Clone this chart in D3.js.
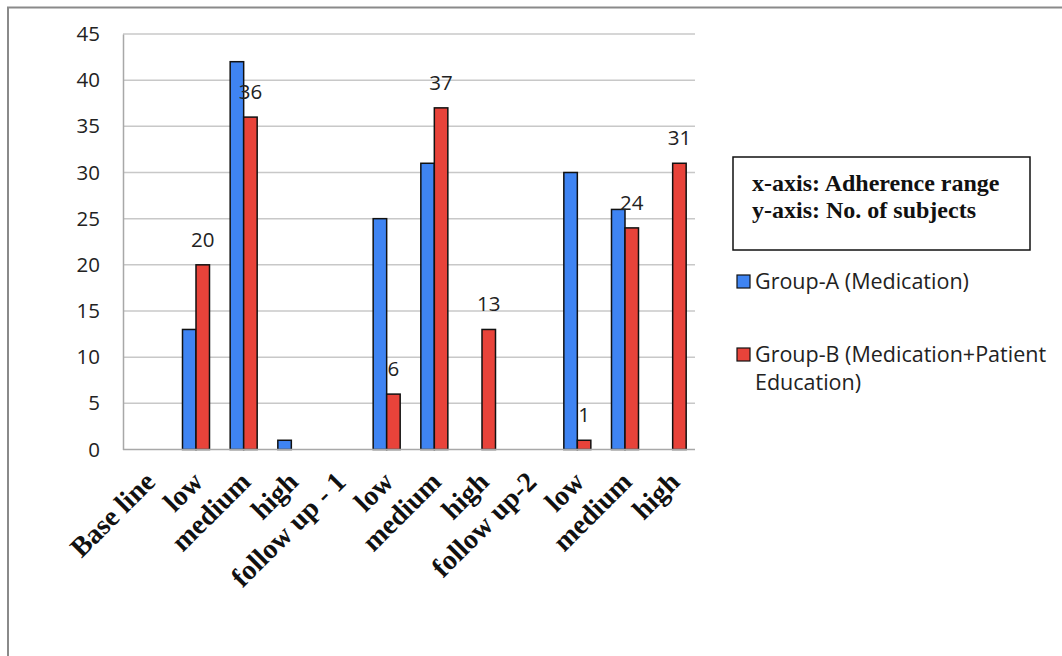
<!DOCTYPE html>
<html>
<head>
<meta charset="utf-8">
<script src="https://cdn.jsdelivr.net/npm/d3@7/dist/d3.min.js"></script>
<style>
  html, body { margin: 0; padding: 0; background: #fff; }
  svg { display: block; }
</style>
</head>
<body>
<svg id="chart" width="1062" height="656"></svg>
<script>
// Adherence categories along the x-axis
const categories = ["Base line", "low", "medium", "high", "follow up - 1", "low", "medium", "high", "follow up-2", "low", "medium", "high"];
// Number of subjects per group
const groupA = [0, 13, 42, 1, 0, 25, 31, 0, 0, 30, 26, 0];
const groupB = [0, 20, 36, 0, 0, 6, 37, 13, 0, 1, 24, 31];
const seriesNames = ["Group-A (Medication)", "Group-B (Medication+Patient Education)"];
const yTicks = [0, 5, 10, 15, 20, 25, 30, 35, 40, 45];
const axisNotes = ["x-axis: Adherence range", "y-axis: No. of subjects"];

const colors = ["#3f84f2", "#e8433a"];
const svg = d3.select("#chart");

// outer frame
svg.append("rect")
  .attr("x", 8).attr("y", 7.5).attr("width", 1100).attr("height", 700)
  .attr("fill", "none").attr("stroke", "#8a8a8a").attr("stroke-width", 2);

const plot = { left: 123, right: 695, top: 34, bottom: 449.5 };

const x0 = d3.scaleBand().domain(d3.range(categories.length))
  .range([plot.left, plot.right]).paddingInner(0).paddingOuter(0);
const barW = 13.5;
const y = d3.scaleLinear().domain([0, 45]).range([plot.bottom, plot.top]);

// horizontal grid lines
svg.append("g").selectAll("line").data(yTicks.filter(t => t > 0)).join("line")
  .attr("x1", plot.left).attr("x2", plot.right)
  .attr("y1", d => y(d)).attr("y2", d => y(d))
  .attr("stroke", "#c8c8c8").attr("stroke-width", 1.5);

// y axis
const yAxis = svg.append("g").attr("transform", `translate(${plot.left},0)`)
  .call(d3.axisLeft(y).tickValues(yTicks).tickSize(0).tickPadding(23));
yAxis.select(".domain").attr("stroke", "#a8a8a8").attr("stroke-width", 1.5);
yAxis.selectAll("text")
  .attr("font-family", "Open Sans, sans-serif").attr("font-size", 20.5)
  .attr("fill", "#222");

// bars
const rows = categories.map((c, i) => ({ i, vals: [groupA[i], groupB[i]] }));
const g = svg.append("g");
rows.forEach(r => {
  const cx = x0(r.i) + x0.bandwidth() / 2 + 1.5;
  r.vals.forEach((v, k) => {
    if (v <= 0) return;
    g.append("rect")
      .attr("x", cx - barW + k * barW).attr("y", y(v))
      .attr("width", barW).attr("height", y(0) - y(v))
      .attr("fill", colors[k]).attr("stroke", "#111").attr("stroke-width", 1.5);
  });
  // value labels for Group-B
  const vb = r.vals[1];
  if (vb > 0) {
    g.append("text")
      .attr("x", cx + barW / 2).attr("y", y(vb) - 18)
      .attr("text-anchor", "middle")
      .attr("font-family", "Open Sans, sans-serif").attr("font-size", 20.5)
      .attr("fill", "#222").text(vb);
  }
});

// x axis line
svg.append("line")
  .attr("x1", plot.left).attr("x2", plot.right)
  .attr("y1", plot.bottom).attr("y2", plot.bottom)
  .attr("stroke", "#a8a8a8").attr("stroke-width", 1.5);

// rotated category labels
svg.append("g").selectAll("text").data(categories).join("text")
  .attr("transform", (d, i) => `translate(${x0(i) + x0.bandwidth() / 2 + 10},${plot.bottom + 34}) rotate(-45)`)
  .attr("text-anchor", "end")
  .attr("font-family", "Liberation Serif, Times New Roman, serif")
  .attr("font-weight", "bold").attr("font-size", 28)
  .attr("fill", "#111")
  .text(d => d);

// axis description box
svg.append("rect")
  .attr("x", 733).attr("y", 157).attr("width", 297).attr("height", 93)
  .attr("fill", "#fff").attr("stroke", "#111").attr("stroke-width", 1.5);
svg.append("g").selectAll("text").data(axisNotes).join("text")
  .attr("x", 752).attr("y", (d, i) => 191 + i * 27)
  .attr("font-family", "Liberation Serif, Times New Roman, serif")
  .attr("font-weight", "bold").attr("font-size", 24)
  .attr("fill", "#111").text(d => d);

// legend
const legend = svg.append("g");
const legendLines = [["Group-A (Medication)"], ["Group-B (Medication+Patient", "Education)"]];
const legendY = [275, 348];
legendLines.forEach((lines, k) => {
  legend.append("rect")
    .attr("x", 737).attr("y", legendY[k]).attr("width", 13).attr("height", 13)
    .attr("fill", colors[k]).attr("stroke", "#111").attr("stroke-width", 1.2);
  lines.forEach((t, j) => {
    legend.append("text")
      .attr("x", 755).attr("y", legendY[k] + 14 + j * 28)
      .attr("font-family", "Open Sans, sans-serif").attr("font-size", 21.5)
      .attr("fill", "#222").text(t);
  });
});
</script>
</body>
</html>
